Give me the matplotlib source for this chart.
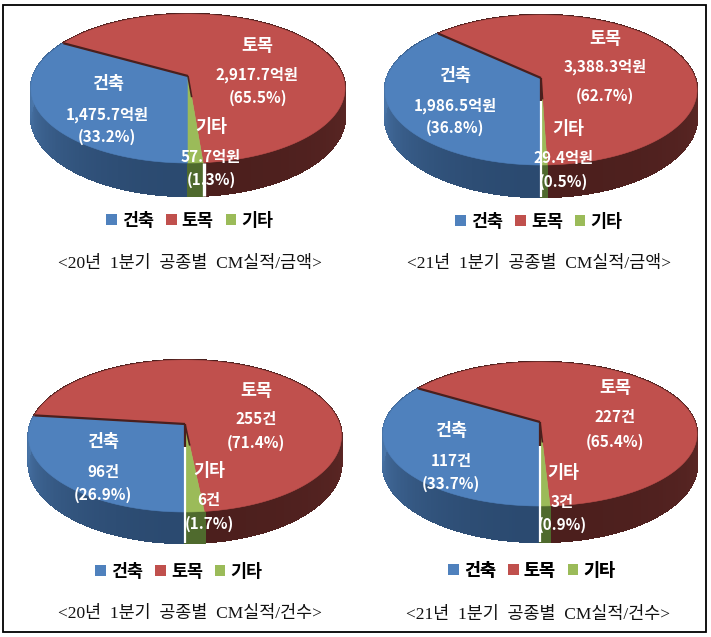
#!/usr/bin/env python3
"""CM results by work type, Q1 2020 vs Q1 2021: four perspective 3D pies."""

import matplotlib
matplotlib.use('Agg')
import matplotlib.pyplot as plt
from matplotlib.patches import Patch, Rectangle
from matplotlib.colors import to_rgb
import numpy as np

plt.rcParams['font.family'] = ['Noto Sans CJK KR', 'DejaVu Sans']

# ─── Data ──────────────────────────────────────────────────────
categories = ['건축', '토목', '기타']
amount_20 = [1475.7, 2917.7, 57.7]
amount_21 = [1986.5, 3388.3, 29.4]
count_20 = [96, 255, 6]
count_21 = [117, 227, 3]
share_amount_20 = [33.2, 65.5, 1.3]
share_amount_21 = [36.8, 62.7, 0.5]
share_count_20 = [26.9, 71.4, 1.7]
share_count_21 = [33.7, 65.4, 0.9]
captions = ['<20년  1분기  공종별  CM실적/금액>', '<21년  1분기  공종별  CM실적/금액>',
            '<20년  1분기  공종별  CM실적/건수>', '<21년  1분기  공종별  CM실적/건수>']

# ─── Palette ───────────────────────────────────────────────────
TOP = ['#4F81BD', '#C0504D', '#9BBB59']
WALL_EDGE = ['#4A76AA', '#5E2826', '#4F6A2D']
WALL_NEAR = ['#2B4A70', '#4C1F1D', '#4F6A2D']
DARK = '#4A1F1D'

# pixel geometry: left, right, top, apex x, apex y, near rim, wall bottom
GEOM = [
    (32, 346, 14, 188, 76, 163, 196),
    (385, 697, 15, 541, 78, 165, 197),
    (29, 342, 360, 185, 424, 512, 543),
    (384, 698, 362, 540, 422, 506, 542),
]
# where the white split starts along the blue/green spoke (None = only on the wall)
SPLIT = [None, 0.30, 0.30, 0.32]

fig = plt.figure(figsize=(7.11, 6.37), dpi=100)
fig.patch.set_facecolor('white')
ax = fig.add_axes([0, 0, 1, 1])
ax.set_xlim(0, 711)
ax.set_ylim(637, 0)
ax.axis('off')


def make_projection(g):
    left, right, top, ax_x, ax_y, near, bottom = g
    far_d, near_d = ax_y - top, near - ax_y
    sy = 2 * far_d * near_d / (far_d + near_d)
    k = sy / far_d - 1
    sx = (right - left) / 2 * np.sqrt(1 - k ** 2)
    drop = (bottom - near) * (1 - k)

    def project(deg, r=1.0, down=0.0):
        # deg runs clockwise from 6 o'clock
        t = np.radians(deg)
        u, v = -r * np.sin(t), -r * np.cos(t)
        w = 1 + k * v
        return ax_x + sx * u / w, ax_y - sy * v / w + drop * down / w

    return project


def draw_pie(g, values, split):
    project = make_projection(g)
    edges = np.concatenate([[0], np.cumsum(values)]) / np.sum(values) * 360

    # outer walls, back to front by simple facets
    for i in range(3):
        steps = np.arange(edges[i], edges[i + 1], 1.0)
        steps = np.append(steps, edges[i + 1])
        c0, c1 = np.array(to_rgb(WALL_EDGE[i])), np.array(to_rgb(WALL_NEAR[i]))
        for a, b in zip(steps[:-1], steps[1:]):
            mid = (a + b) / 2
            f = abs(np.cos(np.radians(mid)))
            col = c0 + (c1 - c0) * f
            x1, y1 = project(a)
            x2, y2 = project(b)
            x3, y3 = project(b, down=1)
            x4, y4 = project(a, down=1)
            ax.fill([x1, x2, x3, x4], [y1, y2, y3, y4], fc=col, ec=col, lw=1.0,
                    antialiased=False, zorder=2)

    # top faces
    for i in range(3):
        ts = np.linspace(edges[i], edges[i + 1], 120)
        xs, ys = project(ts)
        ax_x, ax_y = project(0.0, r=0.0)
        ax.fill(np.r_[ax_x, xs], np.r_[ax_y, ys], fc=TOP[i], ec=TOP[i], lw=0.4, zorder=3)

    # dark inner wall showing along the blue/red spoke
    ax_x, ax_y = project(0.0, r=0.0)
    x, y = project(edges[1])
    ax.plot([ax_x, x], [ax_y, y], color=DARK, lw=1.6, zorder=4, solid_capstyle='butt')

    # red/green spoke shadow
    x, y = project(edges[2], r=0.28)
    ax.plot([ax_x, x], [ax_y, y], color=DARK, lw=1.2, zorder=4, solid_capstyle='butt')

    # white split line between slices
    x_rim, y_rim = project(0.0)
    x_low, y_low = project(0.0, down=1)
    if split is not None:
        x_in, y_in = project(0.0, r=split)
        ax.plot([ax_x, x_in], [ax_y, y_in], color=DARK, lw=1.6, zorder=4, solid_capstyle='butt')
        ax.plot([x_in, x_rim, x_low], [y_in, y_rim, y_low], color='white', lw=1.6, zorder=5,
                solid_capstyle='butt')
    else:
        x_g, y_g = project(edges[2])
        x_gl, y_gl = project(edges[2], down=1)
        ax.plot([x_g + 1, x_gl + 1], [y_g, y_gl], color='white', lw=2.4, zorder=5,
                solid_capstyle='butt')


def label(x, y, text, size=11):
    ax.text(x, y, text, color='white', fontsize=size, fontweight='bold',
            ha='center', va='center', zorder=8)


series = [amount_20, amount_21, count_20, count_21]
for g, vals, sp in zip(GEOM, series, SPLIT):
    draw_pie(g, vals, sp)

# ─── Slice labels ──────────────────────────────────────────────
shares = [share_amount_20, share_amount_21, share_count_20, share_count_21]
label_xy = [
    [[(108, 84), (107, 115), (107, 137)], [(257, 46), (257, 75), (258, 98)], [(211, 127), (211, 157), (211, 180)]],
    [[(455, 76), (455, 106), (455, 128)], [(605, 39), (605, 67), (605, 96)], [(568, 129), (563, 158), (563, 182)]],
    [[(103, 442), (103, 472), (103, 495)], [(256, 391), (256, 419), (256, 443)], [(209, 471), (209, 500), (209, 524)]],
    [[(451, 431), (451, 461), (451, 484)], [(615, 388), (615, 417), (615, 442)], [(563, 473), (562, 502), (562, 525)]],
]
for p in range(4):
    for c in range(3):
        if p < 2:
            amount = f'{series[p][c]:,.1f}억원'
        else:
            amount = f'{series[p][c]}건'
        (x0, y0), (x1, y1), (x2, y2) = label_xy[p][c]
        label(x0, y0, categories[c], size=12.5)
        label(x1, y1, amount)
        label(x2, y2, f'({shares[p][c]}%)')

# ─── Legends + captions ────────────────────────────────────────
handles = [Patch(fc=c, ec='none') for c in TOP]
legend_xy = [(190, 221), (539, 222), (179, 572), (532, 571)]
for lx, ly in legend_xy:
    leg = ax.legend(handles, categories, loc='center', bbox_to_anchor=(lx, ly),
                    bbox_transform=ax.transData, ncols=3, frameon=False,
                    prop={'size': 12.5, 'weight': 'bold'}, handlelength=0.6, handleheight=0.6,
                    handletextpad=0.3, columnspacing=0.7, borderpad=0)
    ax.add_artist(leg)

caption_xy = [(190, 264), (539, 264), (190, 614), (538, 615)]
for (cx, cy), cap in zip(caption_xy, captions):
    ax.text(cx, cy, cap, color='#111111', fontsize=12.5, ha='center', va='center',
            family=['Liberation Serif', 'Noto Sans CJK KR'])

# frame round the whole figure
ax.add_patch(Rectangle((3, 5), 703, 627, fc='none', ec='black', lw=1.3, zorder=9))

fig.savefig('out.png', dpi=100, facecolor='white')
plt.close(fig)
